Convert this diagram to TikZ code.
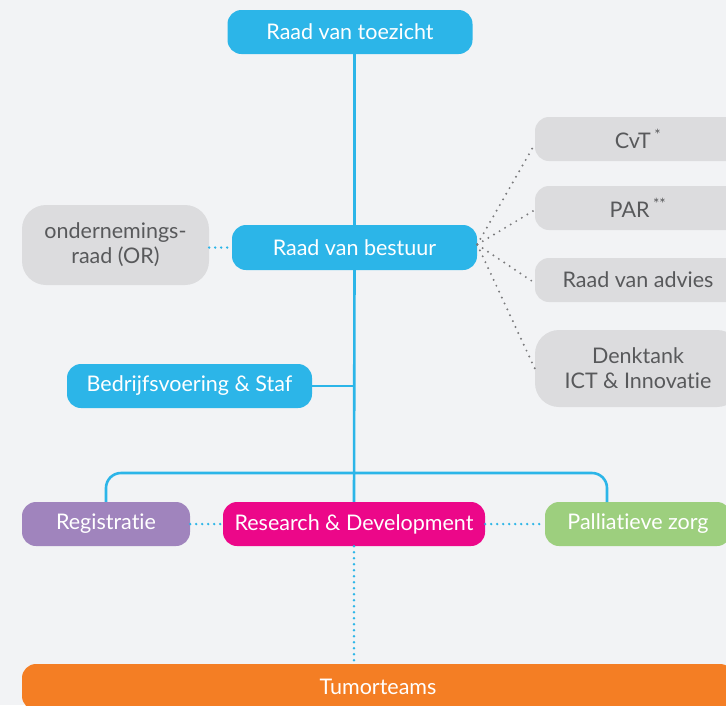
\documentclass[tikz,border=0pt]{standalone}
\usepackage{fontspec}
\setmainfont{Lato}[Ligatures={NoCommon}]
\usepackage{tikz}
\usetikzlibrary{calc}

\definecolor{orgblue}{HTML}{2CB5E8}
\definecolor{orggray}{HTML}{DCDCDE}
\definecolor{orggraytext}{HTML}{58595B}
\definecolor{orgdots}{HTML}{7A7A7C}
\definecolor{orgpurple}{HTML}{A084BD}
\definecolor{orgpink}{HTML}{EC0789}
\definecolor{orggreen}{HTML}{9DCF7E}
\definecolor{orgorange}{HTML}{F47E24}
\definecolor{orgback}{HTML}{F2F3F5}

\tikzset{
	box/.style={rounded corners=14pt, minimum height=44pt, inner sep=0pt, text=white, font=\fontsize{21.5}{25}\selectfont, align=center},
	bluebox/.style={box, fill=orgblue},
	graybox/.style={box, fill=orggray, text=orggraytext},
	trunk/.style={line width=2.6pt, color=orgblue},
	bluedots/.style={line width=2.6pt, color=orgblue, line cap=round, dash pattern=on 0pt off 6pt},
	graydots/.style={line width=2.2pt, color=orgdots, line cap=round, dash pattern=on 0pt off 6.5pt}
}

\begin{document}
\begin{tikzpicture}[x=1pt, y=-1pt]
		%%%%% START %%%%%
		
		\useasboundingbox (0, 0) rectangle (726, 705);
		\fill[orgback] (0, 0) rectangle (726, 705);
		
		\node[bluebox, minimum width=245pt] (toezicht) at (350, 32) {Raad van toezicht};
		\node[bluebox, minimum width=245pt, minimum height=45pt] (bestuur) at (354.5, 247.5) {Raad van bestuur};
		\node[graybox, minimum width=187pt, minimum height=80pt, rounded corners=24pt] (or) at (115.5, 245) {ondernemings-\\raad (OR)};
		
		\node[graybox, minimum width=206pt] (cvt) at (638, 139) {CvT\,\textsuperscript{*}};
		\node[graybox, minimum width=206pt] (par) at (638, 208) {PAR\,\textsuperscript{**}};
		\node[graybox, minimum width=206pt] (advies) at (638, 280) {Raad van advies};
		\node[graybox, minimum width=206pt, minimum height=77pt, rounded corners=24pt] (denktank) at (638, 368.5) {Denktank\\ICT \& Innovatie};
		
		\node[bluebox, minimum width=245pt] (staf) at (189.5, 386) {Bedrijfsvoering \& Staf};
		
		\node[box, fill=orgpurple, minimum width=168pt] (reg) at (106, 524) {Registratie};
		\node[box, fill=orgpink, minimum width=262pt] (rd) at (354, 524) {Research \& Development};
		\node[box, fill=orggreen, minimum width=186pt] (pall) at (638, 524) {Palliatieve zorg};
		
		\node[box, fill=orgorange, minimum width=712pt, minimum height=46pt] (tumor) at (378, 687) {Tumorteams};
		
		% lijnen
		\draw[trunk] (toezicht.south -| bestuur.center) -- (bestuur.north);
		\draw[trunk] (bestuur.south) -- (rd.north);
		\draw[trunk] (staf.east) -- (staf.east -| bestuur.center);
		
		\coordinate (bus) at (354, 473);
		\coordinate (pallin) at (607, 502);
		\draw[trunk, rounded corners=15pt] (reg.north) |- (bus) -| (pallin);
		
		\draw[bluedots] (or.east |- bestuur.west) -- (bestuur.west);
		\draw[bluedots] (reg.east) -- (rd.west);
		\draw[bluedots] (rd.east) -- (pall.west);
		\draw[bluedots] (rd.south) -- (rd.south |- tumor.north);
		
		\draw[graydots] ([yshift=3pt]bestuur.east) -- ([yshift=-5pt]cvt.west);
		\draw[graydots] ([yshift=3pt]bestuur.east) -- ([yshift=-2pt]par.west);
		\draw[graydots] ([yshift=3pt]bestuur.east) -- ([yshift=-3pt]advies.west);
		\draw[graydots] ([yshift=3pt]bestuur.east) -- (denktank.west);
		
		%%%%% END %%%%%
	\end{tikzpicture}
\end{document}
